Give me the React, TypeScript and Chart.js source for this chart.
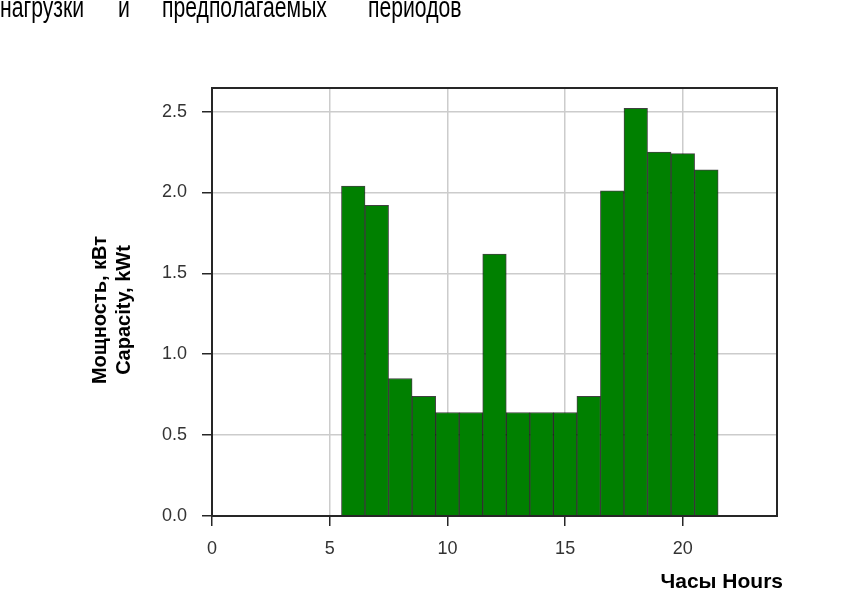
import React, { useEffect, useRef } from "react";
import { Chart, registerables } from "chart.js";

Chart.register(...registerables);

// ---- data ----
const hours: number[] = [6, 7, 8, 9, 10, 11, 12, 13, 14, 15, 16, 17, 18, 19, 20, 21];
const power: number[] = [2.04, 1.92, 0.85, 0.74, 0.64, 0.64, 1.62, 0.64, 0.64, 0.64, 0.74, 2.01, 2.52, 2.25, 2.24, 2.14];
const xTickStep = 5;
const yTickStep = 0.5;
const xLabel = "Часы Hours";
const yLabelLines: string[] = ["Мощность, кВт", "Capacity, kWt"];
const headerWords: string[] = ["нагрузки", "и", "предполагаемых", "периодов"];

const headerLeft = [0, 118, 162, 368];

const framePlugin = {
  id: "frameAndTitles",
  afterDatasetsDraw(chart: any) {
    const { ctx, chartArea } = chart;
    ctx.save();
    ctx.strokeStyle = "#262626";
    ctx.lineWidth = 2;
    ctx.strokeRect(chartArea.left, chartArea.top, chartArea.right - chartArea.left, chartArea.bottom - chartArea.top);
    ctx.restore();
  },
  afterDraw(chart: any) {
    const { ctx } = chart;
    ctx.save();
    ctx.fillStyle = "#000";
    ctx.font = 'bold 21px "Liberation Sans", Arial, sans-serif';
    ctx.textAlign = "right";
    ctx.textBaseline = "alphabetic";
    ctx.fillText(xLabel, 783, 588);

    ctx.font = 'bold 20px "Liberation Sans", Arial, sans-serif';
    ctx.textAlign = "center";
    ctx.translate(0, 310);
    ctx.rotate(-Math.PI / 2);
    ctx.fillText(yLabelLines[0], 0, 106);
    ctx.fillText(yLabelLines[1], 0, 130);
    ctx.restore();
  },
};

export default function App() {
  const canvasRef = useRef<HTMLCanvasElement | null>(null);

  useEffect(() => {
    if (!canvasRef.current) return;
    const chart = new Chart(canvasRef.current, {
      type: "bar",
      data: {
        datasets: [
          {
            data: hours.map((h, i) => ({ x: h, y: power[i] })),
            backgroundColor: "#008000",
            borderColor: "rgba(0,0,0,0.75)",
            borderWidth: 1,
            barPercentage: 1,
            categoryPercentage: 1,
            grouped: false,
          } as any,
        ],
      },
      options: {
        animation: false,
        responsive: false,
        devicePixelRatio: 1,
        layout: { padding: { top: 88, right: 72, left: 0, bottom: 0 } },
        plugins: {
          legend: { display: false },
          tooltip: { enabled: false },
          title: { display: false },
        },
        scales: {
          x: {
            type: "linear",
            min: 0,
            max: 24,
            offset: false,
            afterFit: (s: any) => {
              s.height = 74;
            },
            afterBuildTicks: (s: any) => {
              s.ticks = s.ticks.filter((t: any) => Math.abs(t.value / xTickStep - Math.round(t.value / xTickStep)) < 1e-6);
            },
            ticks: {
              stepSize: xTickStep,
              padding: 12,
              color: "#333",
              font: { family: '"Liberation Sans", Arial, sans-serif', size: 18 },
              maxRotation: 0,
            },
            grid: {
              offset: false,
              color: "#cccccc",
              lineWidth: 1.5,
              tickLength: 10,
              tickColor: "#262626",
              tickWidth: 1.5,
            },
            border: { display: false },
          },
          y: {
            type: "linear",
            min: 0,
            max: 2.646,
            afterFit: (s: any) => {
              s.width = 212;
            },
            afterBuildTicks: (s: any) => {
              s.ticks = s.ticks.filter((t: any) => Math.abs(t.value / yTickStep - Math.round(t.value / yTickStep)) < 1e-6);
            },
            ticks: {
              stepSize: yTickStep,
              padding: 15,
              color: "#333",
              font: { family: '"Liberation Sans", Arial, sans-serif', size: 18 },
              callback: (v: any) => Number(v).toFixed(1),
            },
            grid: {
              color: "#cccccc",
              lineWidth: 1.5,
              tickLength: 10,
              tickColor: "#262626",
              tickWidth: 1.5,
            },
            border: { display: false },
          },
        },
      },
      plugins: [framePlugin],
    });
    return () => chart.destroy();
  }, []);

  return (
    <div style={{ position: "fixed", left: 0, top: 0, width: 849, height: 590, background: "#fff", overflow: "hidden" }}>
      <canvas ref={canvasRef} width={849} height={590} style={{ position: "absolute", left: 0, top: 0 }} />
      {headerWords.map((w, i) => (
        <span
          key={i}
          style={{
            position: "absolute",
            left: headerLeft[i],
            top: -7.5,
            fontFamily: '"Liberation Sans", Arial, sans-serif',
            fontSize: 29,
            lineHeight: "29px",
            color: "#000",
            whiteSpace: "nowrap",
            transform: "scaleX(0.73)",
            transformOrigin: "left top",
          }}
        >
          {w}
        </span>
      ))}
    </div>
  );
}
